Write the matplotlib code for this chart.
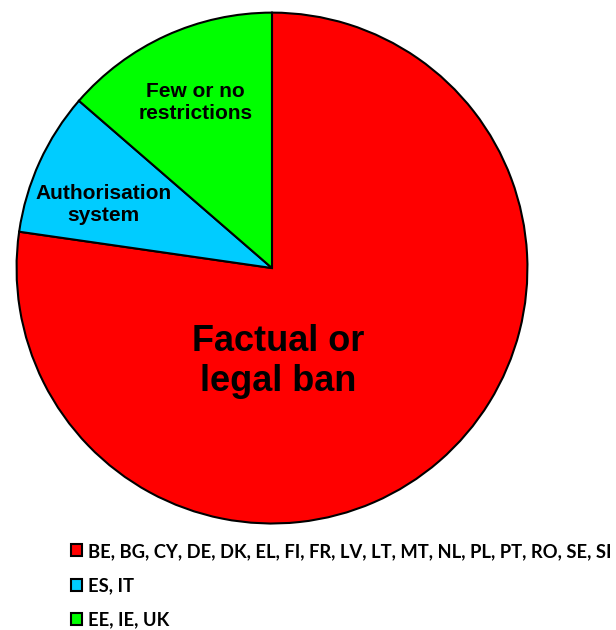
import matplotlib.pyplot as plt
from matplotlib.patches import Patch

# ── Data ─────────────────────────────────────────────────────────────────────
categories = ["Factual or\nlegal ban", "Authorisation\nsystem", "Few or no\nrestrictions"]
counts = [17, 2, 3]
countries = [
    "BE, BG, CY, DE, DK, EL, FI, FR, LV, LT, MT, NL, PL, PT, RO, SE, SI",
    "ES, IT",
    "EE, IE, UK",
]
colors = ["#ff0000", "#00ccff", "#00ff00"]
# ─────────────────────────────────────────────────────────────────────────────

fig = plt.figure(figsize=(6.16, 6.30), dpi=100)
ax = fig.add_axes([0.0227, 0.165, 0.8377, 0.819])

wedges, _ = ax.pie(
    counts, colors=colors, startangle=90, counterclock=False,
    wedgeprops=dict(edgecolor="black", linewidth=1.5),
)
ax.set_xlim(-1.01, 1.01)
ax.set_ylim(-1.01, 1.01)
ax.set_aspect("equal")

# slice labels (positions in data units relative to pie centre)
label_pos = [(0.025, -0.365), (-0.66, 0.25), (-0.3, 0.65)]
label_size = [26, 15, 15]
for text, (x, y), fs in zip(categories, label_pos, label_size):
    ax.text(x, y, text, ha="center", va="center", fontsize=fs,
            fontweight="bold", family="Liberation Sans", linespacing=1.2)

handles = [Patch(facecolor=c, edgecolor="black", linewidth=1.5) for c in colors]
fig.legend(
    handles, countries, loc="upper left", bbox_to_anchor=(0.101, 0.153),
    frameon=False, borderpad=0, handlelength=0.6, handleheight=0.6,
    handletextpad=0.3, labelspacing=0.95,
    prop=dict(family="Lato", weight="bold", size=13.2),
)

fig.savefig("out.png", dpi=100)
